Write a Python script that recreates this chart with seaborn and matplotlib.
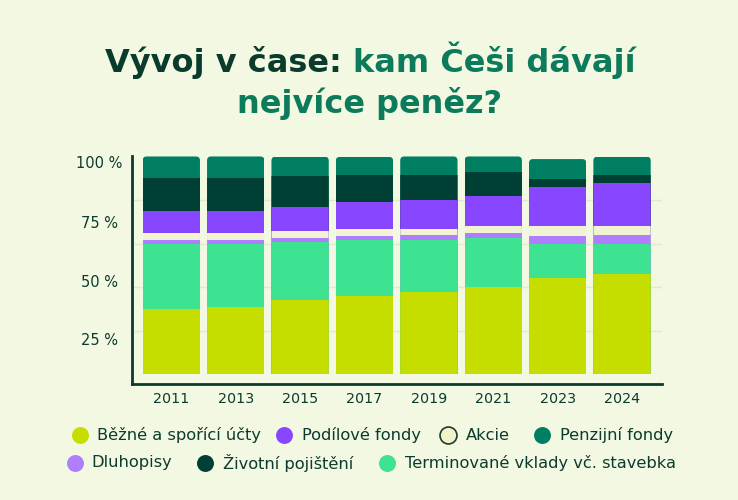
import matplotlib
matplotlib.use('Agg')
import matplotlib.pyplot as plt
import seaborn as sns
import numpy as np
import pandas as pd
from matplotlib.patches import FancyBboxPatch
from matplotlib.transforms import IdentityTransform
from matplotlib.lines import Line2D

# ---------------- data ----------------
years = ['2011', '2013', '2015', '2017', '2019', '2021', '2023', '2024']
bezne = [29.8, 30.8, 33.9, 35.9, 37.7, 39.9, 44.0, 46.0]
terminovane = [29.9, 28.9, 26.8, 25.9, 24.1, 22.9, 15.6, 13.8]
dluhopisy = [2.0, 2.0, 2.0, 1.8, 2.0, 2.1, 4.0, 4.0]
akcie = [3.4, 3.4, 3.1, 3.2, 3.1, 3.1, 4.3, 4.1]
podilove = [10.0, 10.0, 11.0, 12.3, 13.2, 14.0, 18.1, 20.1]
zivotni = [14.9, 14.9, 14.1, 12.7, 11.7, 11.0, 3.7, 3.7]
penzijni = [10.1, 10.1, 9.1, 8.1, 8.3, 7.1, 9.2, 8.3]

series_names = ['Běžné a spořící účty', 'Terminované vklady vč. stavebka', 'Dluhopisy',
                'Akcie', 'Podílové fondy', 'Životní pojištění', 'Penzijní fondy']
ytick_values = [16.1, 42.9, 70.1, 97.7]
ytick_labels = ['25 %', '50 %', '75 %', '100 %']
grid_values = [20, 40, 60, 80]

title_dark = 'Vývoj v čase:'
title_green_1 = 'kam Češi dávají'
title_green_2 = 'nejvíce peněz?'

# ---------------- style ----------------
BG = '#f3f8e3'
DARK = '#0b3b2d'
GREEN = '#0c7b5b'
colors = ['#c5de00', '#3de391', '#b07dff', '#f0f4d2', '#8946ff', '#003f33', '#007e62']

sns.set_theme(style='white')
plt.rcParams['font.family'] = ['DejaVu Sans']

W, H = 738, 500
fig = plt.figure(figsize=(W / 100, H / 100), dpi=100, facecolor=BG)
ax = fig.add_axes([132.3 / W, 1 - 384 / H, (661.7 - 132.3) / W, (384 - 155.6) / H])
ax.set_facecolor(BG)

layers = [bezne, terminovane, dluhopisy, akcie, podilove, zivotni, penzijni]
cum = np.cumsum(np.array(layers), axis=0)
totals = cum[-1]

for k in range(len(layers) - 1, -1, -1):
    df = pd.DataFrame({'year': years, 'value': cum[k]})
    sns.barplot(data=df, x='year', y='value', color=colors[k], saturation=1,
                width=0.89, errorbar=None, ax=ax, zorder=2, linewidth=0)

bar_patches = list(ax.patches)

ax.set_xlim(-0.606, 7.616)
ax.set_ylim(-4.6, 100.5)
ax.set_xlabel('')
ax.set_ylabel('')

for s in ['top', 'right']:
    ax.spines[s].set_visible(False)
for s in ['left', 'bottom']:
    ax.spines[s].set_color(DARK)
    ax.spines[s].set_linewidth(2)

ax.set_yticks(ytick_values)
ax.set_yticklabels(ytick_labels)
ax.set_yticks(grid_values, minor=True)
ax.set_axisbelow(True)
ax.yaxis.grid(True, which='minor', color='#e3e8d0', lw=1)
ax.yaxis.grid(False, which='major')
ax.xaxis.grid(False)
ax.tick_params(axis='y', which='both', length=0, pad=23.8, labelsize=10.5, labelcolor=DARK)
plt.setp(ax.get_yticklabels(), ha='center')
ax.tick_params(axis='x', length=0, pad=6, labelsize=10.3, labelcolor=DARK)

# rounded top corners (clip in pixel space)
clips = []
for i in range(len(years)):
    p = bar_patches[i]
    x0 = p.get_x()
    w = p.get_width()
    (px0, py0) = ax.transData.transform((x0, 0))
    (px1, py1) = ax.transData.transform((x0 + w, totals[i]))
    cp = FancyBboxPatch((px0, py0 - 12), px1 - px0, py1 - py0 + 12,
                        boxstyle='round,pad=0,rounding_size=4', transform=IdentityTransform())
    clips.append(cp)
for idx, p in enumerate(bar_patches):
    p.set_clip_path(clips[idx % len(years)])

# ---------------- title ----------------
renderer = fig.canvas.get_renderer()
fs = 23
tkw = dict(fontsize=fs, weight='bold', va='baseline', ha='left')
t1 = fig.text(0, 1 - 72.3 / H, title_dark, color=DARK, **tkw)
t2 = fig.text(0, 1 - 72.3 / H, title_green_1, color=GREEN, **tkw)
gap = 11
w1 = t1.get_window_extent(renderer).width
w2 = t2.get_window_extent(renderer).width
start = 370 - (w1 + gap + w2) / 2
t1.set_x(start / W)
t2.set_x((start + w1 + gap) / W)
fig.text(370 / W, 1 - 113.3 / H, title_green_2, color=GREEN, fontsize=fs, weight='bold',
         va='baseline', ha='center')

# ---------------- legend ----------------
legend_items = [
    (0, 80, 97.3, 435),
    (4, 284, 301.5, 435),
    (3, 448.3, 466, 435),
    (6, 541.7, 560, 435),
    (2, 75, 91.7, 463),
    (5, 205, 223, 463),
    (1, 386.7, 405, 463),
]
for k, cx, tx, cy in legend_items:
    edge = '#1d3a2c' if k == 3 else colors[k]
    face = '#eef3c8' if k == 3 else colors[k]
    fig.add_artist(Line2D([cx / W], [1 - cy / H], marker='o', markersize=12.2, linestyle='none',
                          markerfacecolor=face, markeredgecolor=edge,
                          markeredgewidth=1.2 if k == 3 else 0, transform=fig.transFigure))
    fig.text(tx / W, 1 - cy / H, series_names[k], fontsize=11.7, color=DARK, va='center', ha='left')

fig.savefig('out.png', dpi=100, facecolor=BG)
